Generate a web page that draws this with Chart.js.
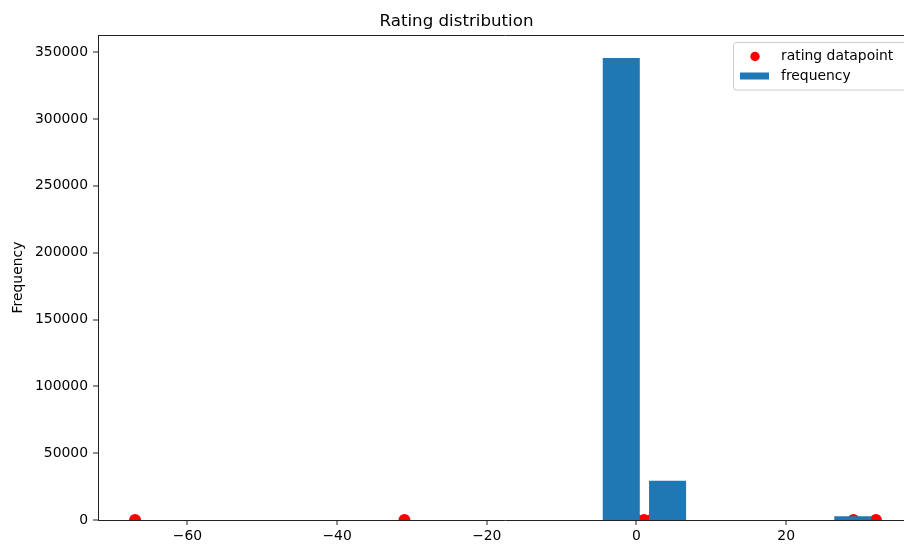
<!DOCTYPE html>
<html><head><meta charset="utf-8">
<script src="https://cdn.jsdelivr.net/npm/chart.js@4.4.1/dist/chart.umd.min.js"></script>
<style>html,body{margin:0;padding:0;overflow:hidden;background:#fff;width:904px;height:549px}canvas{display:block}</style>
</head><body>
<canvas id="c" width="920" height="549"></canvas>
<script>
const chartTitle = 'Rating distribution';
const yAxisLabel = 'Frequency';
const seriesLabels = ['rating datapoint', 'frequency'];
// rating values plotted as points on y = 0
const ratingPoints = [-67, -31, 0, 1, 2, 3, 4, 5, 29, 32];
// histogram bins (centres) and counts
const binCenters = [-63.906, -57.719, -51.531, -45.344, -39.156, -32.969, -26.781, -20.594,
                    -14.406, -8.219, -2.031, 4.156, 10.344, 16.531, 22.719, 28.906];
const binCounts  = [1, 0, 0, 0, 0, 1, 0, 0, 0, 0, 345600, 29400, 0, 0, 0, 2800];
const xTicks = [-60, -40, -20, 0, 20];
const yTicks = [0, 50000, 100000, 150000, 200000, 250000, 300000, 350000];
const xLimits = [-71.95, 36.95];
const yLimits = [0, 362880];

Chart.defaults.font.family = "'DejaVu Sans', sans-serif";
Chart.defaults.color = '#000';

const spinePlugin = {
  id: 'spines',
  afterDraw(chart) {
    const {ctx, chartArea: a} = chart;
    ctx.save();
    ctx.strokeStyle = '#222';
    ctx.lineWidth = 1;
    ctx.beginPath();
    ctx.moveTo(a.left, a.top + 0.5);
    ctx.lineTo(a.right, a.top + 0.5);
    ctx.moveTo(a.right - 0.5, a.top);
    ctx.lineTo(a.right - 0.5, a.bottom);
    ctx.stroke();
    ctx.restore();
  }
};

const legendPlugin = {
  id: 'mplLegend',
  afterDraw(chart) {
    const {ctx, chartArea: a} = chart;
    const ds = chart.data.datasets;
    const right = a.right - 7, top = a.top + 7.5, left = a.right - 180, bottom = a.top + 55;
    ctx.save();
    ctx.beginPath();
    ctx.roundRect(left + 0.5, top, right - left, bottom - top, 3);
    ctx.fillStyle = 'rgba(255,255,255,0.8)';
    ctx.fill();
    ctx.strokeStyle = '#cccccc';
    ctx.lineWidth = 1;
    ctx.stroke();
    ctx.beginPath();
    ctx.arc(left + 22, top + 14, 4.7, 0, Math.PI * 2);
    ctx.fillStyle = ds[0].backgroundColor;
    ctx.fill();
    ctx.fillStyle = ds[1].backgroundColor;
    ctx.fillRect(left + 7, top + 30, 29, 7);
    ctx.fillStyle = '#000';
    ctx.font = "13.9px 'DejaVu Sans', sans-serif";
    ctx.textBaseline = 'middle';
    ctx.textAlign = 'left';
    ctx.fillText(ds[0].label, left + 48, top + 13.5);
    ctx.fillText(ds[1].label, left + 48, top + 33.5);
    ctx.restore();
  }
};

new Chart(document.getElementById('c'), {
  type: 'bar',
  data: {
    datasets: [
      {
        type: 'scatter',
        label: seriesLabels[0],
        data: ratingPoints.map(v => ({x: v, y: 0})),
        backgroundColor: '#ff0000',
        borderColor: '#ff0000',
        pointRadius: 6,
        pointBorderWidth: 0,
        clip: 0,
        order: 1
      },
      {
        type: 'bar',
        label: seriesLabels[1],
        data: binCenters.map((c, i) => ({x: c, y: binCounts[i]})),
        backgroundColor: '#1f77b4',
        borderWidth: 0,
        inflateAmount: 0,
        categoryPercentage: 1,
        barPercentage: 0.8,
        clip: 0,
        order: 0
      }
    ]
  },
  options: {
    responsive: false,
    devicePixelRatio: 1,
    animation: false,
    layout: {padding: {left: 0, right: 7, top: 0, bottom: 0}},
    plugins: {
      legend: {display: false},
      tooltip: {enabled: false},
      title: {
        display: true,
        text: chartTitle,
        color: '#000',
        font: {size: 16.67, weight: 'normal'},
        padding: {top: 11.5, bottom: 3.5}
      }
    },
    scales: {
      x: {
        type: 'linear',
        min: xLimits[0],
        max: xLimits[1],
        offset: false,
        afterBuildTicks: s => { s.ticks = xTicks.map(v => ({value: v})); },
        afterFit: s => { s.height = 29; },
        grid: {display: true, offset: false, drawOnChartArea: false, drawTicks: true, tickLength: 5,
               color: '#222', lineWidth: 0, tickColor: '#222', tickWidth: 1},
        border: {display: true, color: '#222', width: 1},
        ticks: {
          color: '#000', font: {size: 13.9}, padding: 3, maxRotation: 0,
          callback: v => String(v).replace('-', '\u2212')
        }
      },
      y: {
        type: 'linear',
        min: yLimits[0],
        max: yLimits[1],
        afterBuildTicks: s => { s.ticks = yTicks.map(v => ({value: v})); },
        afterFit: s => { s.width = 98; },
        grid: {display: true, drawOnChartArea: false, drawTicks: true, tickLength: 5,
               color: '#222', lineWidth: 0, tickColor: '#222', tickWidth: 1},
        border: {display: true, color: '#222', width: 1},
        ticks: {color: '#000', font: {size: 13.9}, padding: 5, callback: v => String(v)},
        title: {display: true, text: yAxisLabel, color: '#000', font: {size: 13.9}, padding: {top: 10.5, bottom: 0}}
      }
    }
  },
  plugins: [spinePlugin, legendPlugin]
});
</script>
</body></html>
